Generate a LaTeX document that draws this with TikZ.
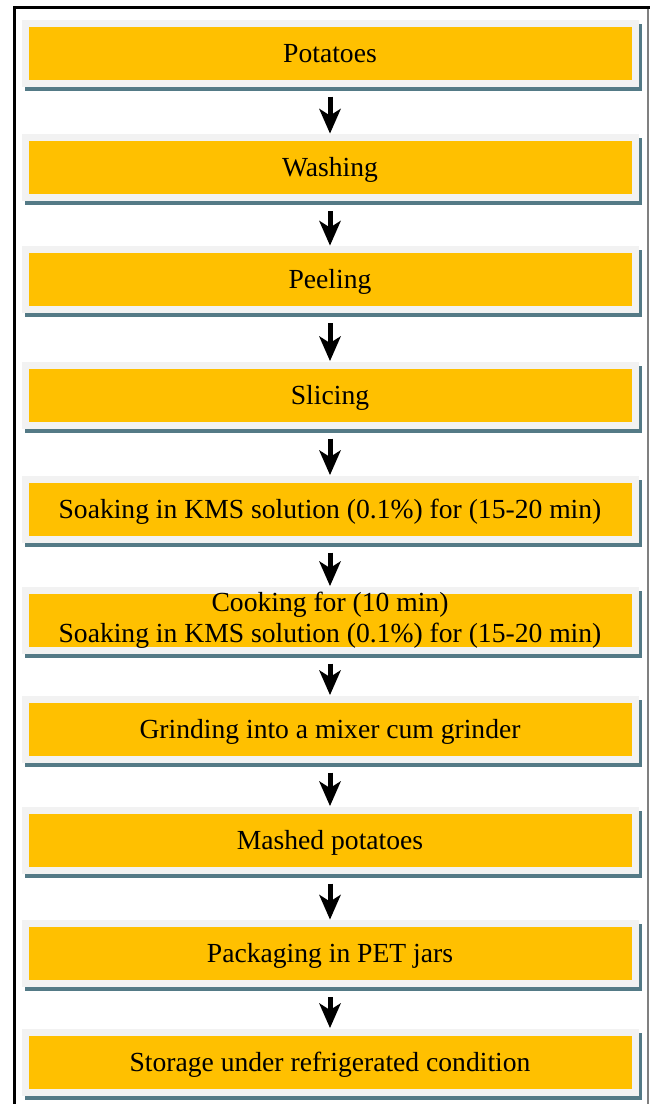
\documentclass[tikz,border=0pt]{standalone}
\usepackage{fontspec}
\setmainfont{Liberation Serif}
\usepackage{xcolor}
\usetikzlibrary{positioning, arrows.meta}
\definecolor{boxorange}{RGB}{255,192,0}
\definecolor{boxgray}{RGB}{242,242,242}
\definecolor{shadowteal}{RGB}{84,122,134}

\begin{document}
\begin{tikzpicture}[x=1pt, y=-1pt,
    stepbox/.style={rectangle, draw=boxgray, line width=7pt, fill=boxorange,
      minimum width=610pt, minimum height=60pt, inner sep=0pt,
      text height=18.5pt, text depth=0pt, font=\fontsize{27.6}{31}\selectfont,
      preaction={draw=shadowteal, fill=shadowteal, line width=7pt,
        transform canvas={shift={(3pt,-4pt)}}}},
    flow/.style={line width=5pt, -{Stealth[length=25pt, width=22pt, inset=7pt, line width=0pt]},
      shorten <=10pt, shorten >=0.5pt}]
  \useasboundingbox[fill=white] (0,0) rectangle (650,1104);

  % frame
  \draw[line width=3pt] (14.5,1104) -- (14.5,7.5) -- (650,7.5);
  \draw[gray, line width=1.5pt] (648,9) -- (648,1104);

  \node[stepbox] (potatoes) at (330, 53) {Potatoes};
  \node[stepbox] (washing) at (330, 167.5) {Washing};
  \node[stepbox] (peeling) at (330, 279.5) {Peeling};
  \node[stepbox] (slicing) at (330, 395) {Slicing};
  \node[stepbox] (soaking) at (330, 509) {Soaking in KMS solution (0.1\%) for (15-20 min)};
  \node[stepbox, align=center, text height=, text depth=] (cooking) at (330, 620)
    {Cooking for (10 min)\\Soaking in KMS solution (0.1\%) for (15-20 min)};
  \node[stepbox] (grinding) at (330, 729) {Grinding into a mixer cum grinder};
  \node[stepbox] (mashed) at (330, 840) {Mashed potatoes};
  \node[stepbox] (packaging) at (330, 953.5) {Packaging in PET jars};
  \node[stepbox] (storage) at (330, 1062) {Storage under refrigerated condition};

  \draw[flow] (potatoes) -- (washing);
  \draw[flow] (washing) -- (peeling);
  \draw[flow] (peeling) -- (slicing);
  \draw[flow] (slicing) -- (soaking);
  \draw[flow] (soaking) -- (cooking);
  \draw[flow] (cooking) -- (grinding);
  \draw[flow] (grinding) -- (mashed);
  \draw[flow] (mashed) -- (packaging);
  \draw[flow] (packaging) -- (storage);
\end{tikzpicture}
\end{document}
